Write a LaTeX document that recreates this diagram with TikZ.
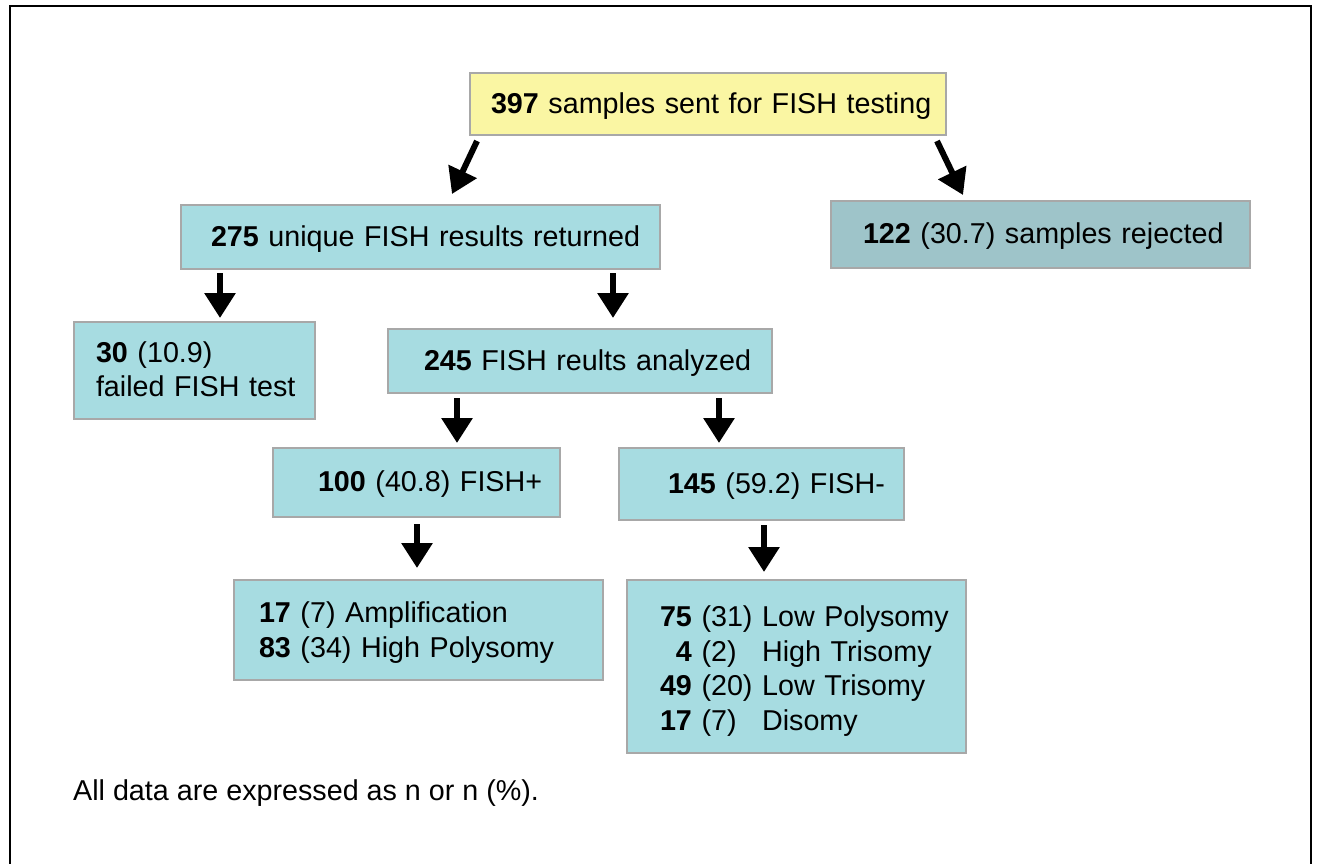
\documentclass[tikz,border=0pt]{standalone}
\usepackage{fontspec}
\setmainfont{Liberation Sans}
\usetikzlibrary{arrows.meta,calc}
\definecolor{boxyellow}{RGB}{250,246,163}
\definecolor{boxteal}{RGB}{167,220,225}
\definecolor{boxgrey}{RGB}{158,196,201}
\definecolor{boxline}{RGB}{168,168,168}
% #1: drop of the text, #2: left indent, #3: the text
\newcommand{\boxtext}[3]{\noindent\hspace*{#2pt}\raisebox{-#1pt}[\height][\depth]{#3}}
\begin{document}
\begin{tikzpicture}[x=1pt,y=-1pt,
  font=\fontsize{28.7}{34.5}\selectfont,
  box/.style={draw=boxline, line width=2pt, fill=boxteal, inner xsep=0pt,
    inner ysep=0pt, anchor=north west, align=left},
  arr/.style={line width=6pt, -{Triangle[width=30pt,length=25pt]}}]
\useasboundingbox (0,0) rectangle (1321,863);
% outer frame, open at the bottom
\draw[line width=2.5pt] (10,870) -- (10,6) -- (1311,6) -- (1311,870);

% boxes
\node[box, fill=boxyellow, text width=476pt, minimum height=62pt] (top) at (469,72)
  {\boxtext{2}{21}{\textbf{397} samples sent for FISH testing}};
\node[box, text width=479pt, minimum height=64pt] (n275) at (180,204)
  {\boxtext{2}{30}{\textbf{275} unique FISH results returned}};
\node[box, fill=boxgrey, text width=419pt, minimum height=67pt] (rej) at (830,200)
  {\boxtext{2}{32}{\textbf{122} (30.7) samples rejected}};
\node[box, text width=241pt, minimum height=97pt] (n30) at (73,321)
  {\boxtext{2}{22}{\begin{tabular}{@{}l@{}}
    \textbf{30} (10.9)\\
    failed FISH test
  \end{tabular}}};
\node[box, text width=384pt, minimum height=64pt] (n245) at (387,328)
  {\boxtext{2}{36}{\textbf{245} FISH reults analyzed}};
\node[box, text width=287pt, minimum height=69pt] (n100) at (272,447)
  {\boxtext{2}{45}{\textbf{100} (40.8) FISH+}};
\node[box, text width=285pt, minimum height=72pt] (n145) at (618,447)
  {\boxtext{2}{49}{\textbf{145} (59.2) FISH-}};
\node[box, text width=369pt, minimum height=100pt] (pos) at (233,579)
  {\boxtext{3}{25}{\begin{tabular}{@{}l@{}}
    \textbf{17} (7) Amplification\\
    \textbf{83} (34) High Polysomy
  \end{tabular}}};
\node[box, text width=339pt, minimum height=173pt] (neg) at (626,579)
  {\boxtext{5}{33}{\begin{tabular}{@{}r@{ }l@{ }l@{}}
    \textbf{75} & (31) & Low Polysomy\\
    \textbf{4}  & (2)  & High Trisomy\\
    \textbf{49} & (20) & Low Trisomy\\
    \textbf{17} & (7)  & Disomy
  \end{tabular}}};

% note
\node[anchor=base west, inner sep=0pt] (note) at (73,800)
  {All data are expressed as n or n (\%).};

% connectors
\draw[arr] ($(top.south west)+(8,5)$) -- ($(n275.north west)+(272,-10)$);
\draw[arr] ($(top.south east)+(-10,5)$) -- ($(rej.north west)+(133,-5)$);
\draw[arr] ($(n275.south west)+(40,3)$) -- ($(n30.north west)+(147,-3)$);
\draw[arr] ($(n275.south west)+(433,3)$) -- ($(n245.north west)+(226,-10)$);
\draw[arr] ($(n245.south west)+(70,4)$) -- ($(n100.north west)+(185,-4)$);
\draw[arr] ($(n245.south west)+(332,4)$) -- ($(n145.north west)+(101,-4)$);
\draw[arr] ($(n100.south west)+(145,6)$) -- ($(pos.north west)+(184,-11)$);
\draw[arr] ($(n145.south west)+(146,4)$) -- ($(neg.north west)+(138,-7)$);
\end{tikzpicture}
\end{document}
